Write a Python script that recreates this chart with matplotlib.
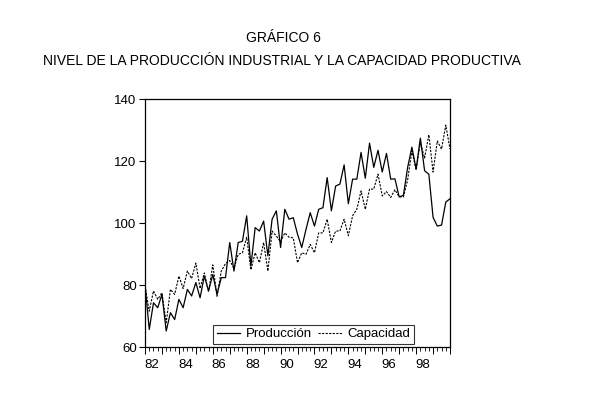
import numpy as np
import matplotlib
matplotlib.use("Agg")
import matplotlib.pyplot as plt
from matplotlib.ticker import FixedLocator, NullFormatter

plt.rcParams['font.family'] = ['Liberation Sans', 'DejaVu Sans']

# Quarterly observations 1982Q1 .. 2000Q1
start_year = 1982
produccion = [
    80.3, 65.8, 74.4, 72.8,      # 1982
    77.1, 65.3, 71.2, 69.0,      # 1983
    75.5, 72.8, 78.7, 76.6,      # 1984
    80.9, 76.0, 83.0, 78.2,      # 1985
    83.5, 77.1, 82.5, 82.5,      # 1986
    93.8, 84.6, 93.8, 94.2,      # 1987
    102.4, 86.2, 98.6, 97.5,     # 1988
    100.7, 89.5, 101.3, 104.0,   # 1989
    92.2, 104.5, 101.3, 101.8,   # 1990
    96.5, 92.2, 98.0, 103.4,     # 1991
    99.1, 104.5, 105.0, 114.7,   # 1992
    104.0, 112.0, 112.6, 118.8,  # 1993
    106.3, 114.2, 114.2, 122.8,  # 1994
    114.5, 125.8, 118.0, 123.5,  # 1995
    116.5, 122.5, 114.2, 114.3,  # 1996
    108.5, 109.0, 118.0, 124.5,  # 1997
    117.4, 127.4, 116.9, 115.8,  # 1998
    101.9, 99.1, 99.4, 106.8,    # 1999
    107.9,                       # 2000Q1
]
capacidad = [
    79.8, 71.7, 78.2, 75.5,      # 1982
    77.6, 68.0, 78.7, 77.1,      # 1983
    83.0, 79.0, 84.6, 82.2,      # 1984
    87.2, 79.0, 84.0, 78.0,      # 1985
    86.6, 76.5, 84.6, 87.0,      # 1986
    88.0, 85.5, 90.0, 90.5,      # 1987
    95.5, 85.0, 90.5, 87.3,      # 1988
    93.8, 84.6, 97.5, 95.9,      # 1989
    94.0, 96.9, 95.5, 95.3,      # 1990
    87.3, 90.5, 90.0, 93.2,      # 1991
    90.5, 96.9, 96.9, 101.3,     # 1992
    93.8, 97.5, 97.5, 101.3,     # 1993
    96.0, 102.4, 104.5, 110.4,   # 1994
    104.5, 111.0, 111.0, 115.8,  # 1995
    108.8, 110.2, 108.3, 110.8,  # 1996
    108.5, 108.5, 114.0, 123.3,  # 1997
    117.2, 126.0, 121.0, 128.5,  # 1998
    116.5, 126.5, 123.9, 131.6,  # 1999
    123.9,                       # 2000Q1
]
year_labels = ['82', '84', '86', '88', '90', '92', '94', '96', '98']
y_ticks = [60, 80, 100, 120, 140]

n = len(produccion)
x = np.arange(n)

fig = plt.figure(figsize=(6.06, 3.93), dpi=100)
fig.text(0.467, 0.903, 'GRÁFICO 6', ha='center', va='center', fontsize=10)
fig.text(0.465, 0.845, 'NIVEL DE LA PRODUCCIÓN INDUSTRIAL Y LA CAPACIDAD PRODUCTIVA',
         ha='center', va='center', fontsize=10)

ax = fig.add_axes([0.2393, 0.1158, 0.5033, 0.6322])
ax.plot(x, produccion, color='black', lw=0.9, label='Producción')
ax.plot(x, capacidad, color='black', lw=0.8, dashes=(2.0, 1.2), label='Capacidad')

ax.set_xlim(0, n - 1)
ax.set_ylim(60, 140)
ax.set_yticks(y_ticks)
ax.tick_params(axis='y', direction='out', length=4, width=0.8, labelsize=9.5, pad=2)

# year ticks (major) and quarter ticks (minor)
ax.xaxis.set_major_locator(FixedLocator(np.arange(0, n, 4)))
ax.xaxis.set_minor_locator(FixedLocator(np.arange(0, n, 1)))
ax.xaxis.set_major_formatter(NullFormatter())
ax.tick_params(axis='x', which='major', direction='out', length=5, width=0.7)
ax.tick_params(axis='x', which='minor', direction='out', length=3, width=0.6)

sec = ax.secondary_xaxis('bottom')
label_pos = [1.5 + 8 * k for k in range(len(year_labels))]
sec.set_xticks(label_pos)
sec.set_xticklabels(year_labels)
sec.tick_params(length=0, labelsize=9.5, pad=8)
sec.spines['bottom'].set_visible(False)

for s in ax.spines.values():
    s.set_linewidth(0.9)

leg = ax.legend(loc='lower center', bbox_to_anchor=(0.552, 0.015), ncol=2,
                frameon=True, fancybox=False, edgecolor='black', fontsize=9.5,
                handlelength=1.8, handletextpad=0.4, columnspacing=0.5,
                borderpad=0.25, borderaxespad=0.0)
leg.get_frame().set_linewidth(0.8)

fig.savefig('out.png', dpi=100)
